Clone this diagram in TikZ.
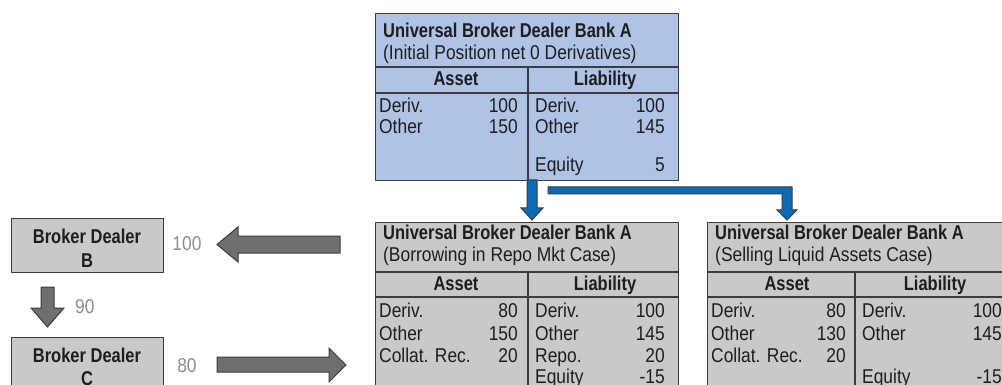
\documentclass[tikz,border=0pt]{standalone}
\usepackage{fontspec}
\newfontfamily\regf{Liberation Sans}[FakeStretch=0.87]
\newfontfamily\boldf{Liberation Sans}[FakeStretch=0.825]
\definecolor{rulec}{HTML}{3C3C3E}
\definecolor{textc}{HTML}{1E1E20}
\definecolor{blueface}{HTML}{AFC3E5}
\definecolor{grayface}{HTML}{C8C9CB}
\definecolor{flowblue}{HTML}{0A6CB6}
\definecolor{flowgray}{HTML}{6E6F71}
\definecolor{amountc}{HTML}{8C8C8E}
\begin{document}
\begin{tikzpicture}[x=1pt,y=-1pt,
  sheet/.style={draw=rulec, line width=1.1pt, inner sep=0pt, anchor=north west},
  rule/.style={draw=rulec, line width=1.1pt},
  txt/.style={inner sep=0pt, text=textc, font=\regf\fontsize{20}{24}\selectfont},
  bld/.style={inner sep=0pt, text=textc, font=\boldf\bfseries\fontsize{20}{24}\selectfont},
  amount/.style={inner sep=0pt, text=amountc, font=\regf\fontsize{20}{24}\selectfont, anchor=base},
  bluearrow/.style={fill=flowblue, draw=rulec, line width=1pt, line join=miter},
  grayarrow/.style={fill=flowgray, draw=rulec, line width=1pt, line join=miter}]
\useasboundingbox (0,0) rectangle (1002,385);
\clip (0,0) rectangle (1002,385);

% ---------- initial position ----------
\node[sheet, fill=blueface, minimum width=303pt, minimum height=167pt] (init) at (375,13) {};
\draw[rule] (375,67) -- (678,67);
\draw[rule] (375,93) -- (678,93);
\draw[rule] (528,67) -- (528,180);
\node[bld, anchor=base west] (initT) at (383,38) {Universal Broker Dealer Bank A};
\node[txt, anchor=base west] (initS) at (383,60) {(Initial Position net 0 Derivatives)};
\node[bld, anchor=base] (initA) at (456,86) {Asset};
\node[bld, anchor=base] (initL) at (605,86) {Liability};
\node[txt, anchor=base west] at (379,113) {Deriv.};
\node[txt, anchor=base east] at (518,113) {100};
\node[txt, anchor=base west] at (379,134) {Other};
\node[txt, anchor=base east] at (518,134) {150};
\node[txt, anchor=base west] at (535,113) {Deriv.};
\node[txt, anchor=base east] at (665,113) {100};
\node[txt, anchor=base west] at (535,134) {Other};
\node[txt, anchor=base east] at (665,134) {145};
\node[txt, anchor=base west] at (535,172) {Equity};
\node[txt, anchor=base east] at (665,172) {5};

% ---------- repo case ----------
\node[sheet, fill=grayface, minimum width=303pt, minimum height=190pt] (repo) at (375,222) {};
\draw[rule] (375,272) -- (678,272);
\draw[rule] (375,297) -- (678,297);
\draw[rule] (528,272) -- (528,400);
\node[bld, anchor=base west] (repoT) at (383,239) {Universal Broker Dealer Bank A};
\node[txt, anchor=base west] (repoS) at (383,261) {(Borrowing in Repo Mkt Case)};
\node[bld, anchor=base] at (456,290) {Asset};
\node[bld, anchor=base] at (605,290) {Liability};
\node[txt, anchor=base west] at (379,317) {Deriv.};
\node[txt, anchor=base east] at (518,317) {80};
\node[txt, anchor=base west] at (379,340) {Other};
\node[txt, anchor=base east] at (518,340) {150};
\node[txt, anchor=base west] at (379,362) {Collat. Rec.};
\node[txt, anchor=base east] at (518,362) {20};
\node[txt, anchor=base west] at (535,317) {Deriv.};
\node[txt, anchor=base east] at (665,317) {100};
\node[txt, anchor=base west] at (535,340) {Other};
\node[txt, anchor=base east] at (665,340) {145};
\node[txt, anchor=base west] at (535,362) {Repo.};
\node[txt, anchor=base east] at (665,362) {20};
\node[txt, anchor=base west] at (535,383) {Equity};
\node[txt, anchor=base east] at (665,383) {-15};

% ---------- selling case ----------
\node[sheet, fill=grayface, minimum width=308pt, minimum height=190pt] (sell) at (707,222) {};
\draw[rule] (707,272) -- (1015,272);
\draw[rule] (707,297) -- (1015,297);
\draw[rule] (855,272) -- (855,400);
\node[bld, anchor=base west] (sellT) at (715,239) {Universal Broker Dealer Bank A};
\node[txt, anchor=base west] (sellS) at (715,261) {(Selling Liquid Assets Case)};
\node[bld, anchor=base] at (787,290) {Asset};
\node[bld, anchor=base] at (935,290) {Liability};
\node[txt, anchor=base west] at (711,317) {Deriv.};
\node[txt, anchor=base east] at (846,317) {80};
\node[txt, anchor=base west] at (711,340) {Other};
\node[txt, anchor=base east] at (846,340) {130};
\node[txt, anchor=base west] at (711,362) {Collat. Rec.};
\node[txt, anchor=base east] at (846,362) {20};
\node[txt, anchor=base west] at (862,317) {Deriv.};
\node[txt, anchor=base east] at (1002,317) {100};
\node[txt, anchor=base west] at (862,340) {Other};
\node[txt, anchor=base east] at (1002,340) {145};
\node[txt, anchor=base west] at (862,383) {Equity};
\node[txt, anchor=base east] at (1002,383) {-15};

% ---------- broker dealers ----------
\node[sheet, fill=grayface, minimum width=152pt, minimum height=54pt] (bdB) at (11,218) {};
\node[bld, anchor=base] at (87,243) {Broker Dealer};
\node[bld, anchor=base] at (87,267) {B};
\node[sheet, fill=grayface, minimum width=152pt, minimum height=70pt] (bdC) at (11,337) {};
\node[bld, anchor=base] at (87,362) {Broker Dealer};
\node[bld, anchor=base] at (87,385) {C};

% ---------- blue flows from the initial position ----------
\path[bluearrow] (527,180) -- (537,180) -- (537,208) -- (543,208) -- (532,220)
  -- (521,208) -- (527,208) -- cycle;
\path[bluearrow] (548,187) -- (792,187) -- (792,210) -- (797,210) -- (787,220)
  -- (777,210) -- (782,210) -- (782,194) -- (548,194) -- cycle;

% ---------- repo market flows ----------
\path[grayarrow] (340,236) -- (340,253) -- (238,253) -- (238,262) -- (217,244.5)
  -- (238,227) -- (238,236) -- cycle;
\node[amount] at (187,251) {100};
\path[grayarrow] (41,287) -- (54,287) -- (54,308) -- (64,308) -- (47.5,327)
  -- (31,308) -- (41,308) -- cycle;
\node[amount, anchor=base west] at (75,313) {90};
\path[grayarrow] (217,357) -- (329,357) -- (329,348) -- (346,365) -- (329,382)
  -- (329,372) -- (217,372) -- cycle;
\node[amount] at (187,372) {80};
\end{tikzpicture}
\end{document}
